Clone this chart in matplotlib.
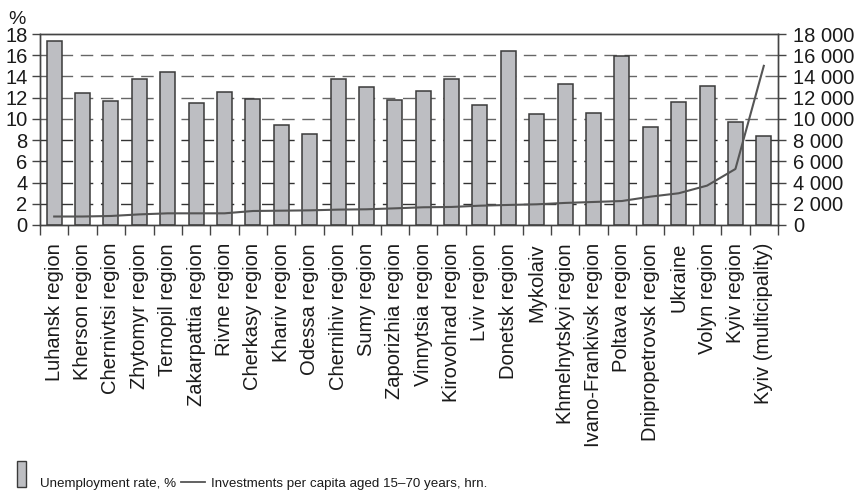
import matplotlib
matplotlib.use("Agg")
import matplotlib.pyplot as plt
from matplotlib.patches import Rectangle
from matplotlib.lines import Line2D
from matplotlib.ticker import FuncFormatter, MultipleLocator

# Datos
regiones = ["Luhansk region", "Kherson region", "Chernivtsi region", "Zhytomyr region",
            "Ternopil region", "Zakarpattia region", "Rivne region", "Cherkasy region",
            "Khariv region", "Odessa region", "Chernihiv region", "Sumy region",
            "Zaporizhia region", "Vinnytsia region", "Kirovohrad region", "Lviv region",
            "Donetsk region", "Mykolaiv", "Khmelnytskyi region", "Ivano-Frankivsk region",
            "Poltava region", "Dnipropetrovsk region", "Ukraine", "Volyn region",
            "Kyiv region", "Kyiv (multicipality)"]
desempleo = [17.3, 12.4, 11.7, 13.8, 14.4, 11.5, 12.5, 11.9, 9.4, 8.6, 13.8, 13.0, 11.8,
             12.6, 13.8, 11.3, 16.4, 10.5, 13.3, 10.6, 15.9, 9.2, 11.6, 13.1, 9.7, 8.4]
inversiones = [800, 800, 850, 1000, 1100, 1100, 1100, 1320, 1350, 1380, 1450, 1480, 1570,
               1670, 1700, 1820, 1890, 1950, 2080, 2170, 2260, 2670, 2990, 3710, 5280, 15000]

plt.rcParams["font.family"] = ["Liberation Sans", "DejaVu Sans"]
texto = "#1a1a1a"

fig = plt.figure(figsize=(8.57, 4.96), dpi=100)
ax = fig.add_axes([40 / 857, 1 - 225 / 496, 738 / 857, 191 / 496])
ax2 = ax.twinx()

x = list(range(len(regiones)))

# Barras de desempleo
ax.bar(x, desempleo, width=0.53, color="#bdbec2", edgecolor="#3a3a3a", linewidth=1.1, zorder=3)
ax.set_ylim(0, 18)
ax.set_xlim(-0.5, len(regiones) - 0.5)
ax.yaxis.set_major_locator(MultipleLocator(2))
for v in range(2, 18, 2):
    ax.axhline(v, color="#666666" if v >= 10 else "#333333", lw=1.0,
               dashes=(9, 5.5), zorder=1)

# Linea de inversiones
ax2.plot(x, inversiones, color="#555555", lw=1.5, zorder=4)
ax2.set_ylim(0, 18000)
ax2.yaxis.set_major_locator(MultipleLocator(2000))
ax2.yaxis.set_major_formatter(FuncFormatter(lambda v, p: f"{int(v):,}".replace(",", " ")))

# Ejes
ax.set_xticks(x)
ax.set_xticklabels(regiones, rotation=90, fontsize=14.5, color=texto)
ax.set_xticks([i - 0.5 for i in range(len(regiones) + 1)], minor=True)
ax.tick_params(axis="x", which="major", length=0, pad=13)
ax.tick_params(axis="x", which="minor", length=7, width=1, color="#444444", direction="out")
ax.tick_params(axis="y", length=6, width=1, color="#444444", labelsize=14.5,
               labelcolor=texto, pad=3)
ax2.tick_params(axis="y", length=6, width=1, color="#444444", labelsize=14.5,
                labelcolor=texto, pad=5)
for a in (ax, ax2):
    for s in a.spines.values():
        s.set_color("#444444")
        s.set_linewidth(1.0)

fig.text(8 / 857, 1 - 24 / 496, "%", fontsize=14, color=texto)

# Leyenda hecha a mano
fig.patches.append(Rectangle((17 / 857, 1 - 487 / 496), 9 / 857, 26 / 496,
                             transform=fig.transFigure, facecolor="#bdbec2",
                             edgecolor="#3a3a3a", linewidth=1.0))
fig.text(40 / 857, 1 - 487 / 496, "Unemployment rate, %", fontsize=9.6, color=texto)
fig.lines.append(Line2D([181 / 857, 205 / 857], [1 - 482 / 496, 1 - 482 / 496],
                        transform=fig.transFigure, color="#555555", lw=1.3))
fig.text(211 / 857, 1 - 487 / 496, "Investments per capita aged 15\u201370 years, hrn.",
         fontsize=9.6, color=texto)

fig.savefig("out.png", dpi=100)
